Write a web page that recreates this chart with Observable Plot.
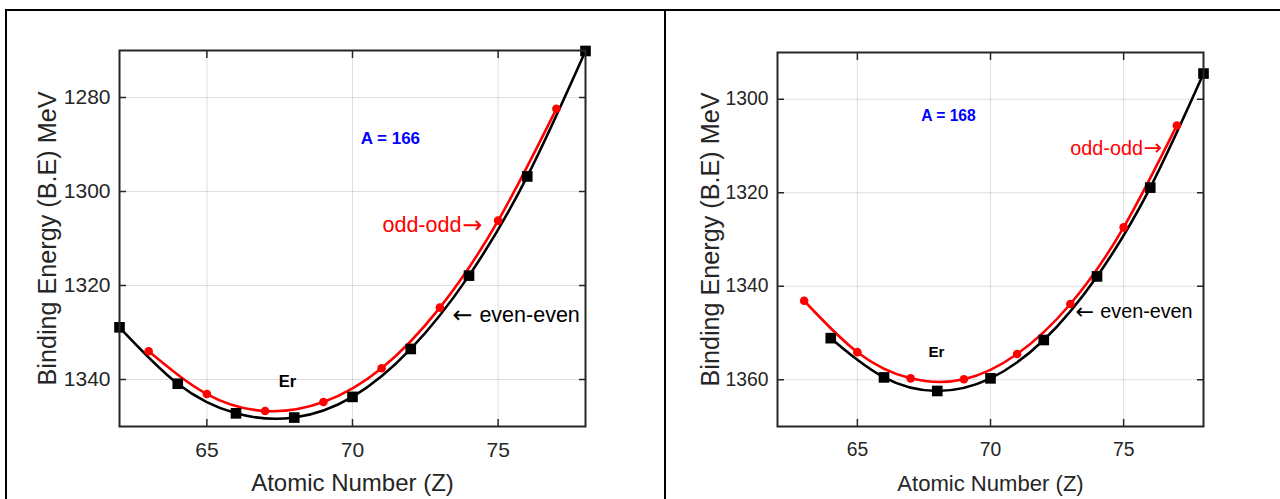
<!DOCTYPE html>
<html>
<head>
<meta charset="utf-8">
<script src="https://cdn.jsdelivr.net/npm/d3@7"></script>
<script src="https://cdn.jsdelivr.net/npm/@observablehq/plot@0.6"></script>
<style>
  html, body { margin: 0; padding: 0; background: #fff; }
  #wrap { position: relative; width: 1280px; height: 499px; overflow: hidden; background: #fff; }
  .panel { position: absolute; top: 0; }
  .bline { position: absolute; background: #000; }
</style>
</head>
<body>
<div id="wrap">
  <div class="bline" style="left:5px;top:9px;width:2px;height:490px"></div>
  <div class="bline" style="left:5px;top:9px;width:1275px;height:2px"></div>
  <div class="bline" style="left:664px;top:9px;width:2px;height:490px"></div>
  <div id="p1" class="panel" style="left:0px"></div>
  <div id="p2" class="panel" style="left:665px"></div>
</div>
<script>
// ---- Data ----
// Panel A = 166
const zEven166 = [62, 64, 66, 68, 70, 72, 74, 76, 78];
const beEven166 = [1328.9, 1340.9, 1347.2, 1348.1, 1343.7, 1333.5, 1317.9, 1296.8, 1270.1];
const zOdd166 = [63, 65, 67, 69, 71, 73, 75, 77];
const beOdd166 = [1334.0, 1343.1, 1346.7, 1344.8, 1337.6, 1324.7, 1306.2, 1282.4];
// Panel A = 168
const zEven168 = [64, 66, 68, 70, 72, 74, 76, 78];
const beEven168 = [1351.1, 1359.5, 1362.4, 1359.7, 1351.5, 1337.9, 1318.9, 1294.5];
const zOdd168 = [63, 65, 67, 69, 71, 73, 75, 77];
const beOdd168 = [1343.1, 1354.1, 1359.7, 1359.9, 1354.5, 1343.8, 1327.4, 1305.6];

const xTicks = [65, 70, 75];
const yTicks166 = [1280, 1300, 1320, 1340];
const yTicks168 = [1300, 1320, 1340, 1360];

const xLabel = "Atomic Number (Z)";
const yLabel = "Binding Energy (B.E) MeV";
const massLabel166 = "A = 166";
const massLabel168 = "A = 168";
const elemLabel = "Er";
const oddLabel = "odd-odd";
const evenLabel = "even-even";

function toRows(zs, bes) { return zs.map((z, i) => ({z, be: bes[i]})); }

const FONT = "'Liberation Sans', Arial, Helvetica, sans-serif";
const ARROWFONT = "'DejaVu Sans', sans-serif";
const AX = "#262626";

function panel(o) {
  const {width, marginLeft, marginRight, marginTop, marginBottom, yDomain, yTicks, even, odd, s, n} = o;
  const fmt = d => String(d);
  return Plot.plot({
    width, height: 499,
    marginLeft, marginRight, marginTop, marginBottom,
    style: {fontFamily: FONT, fontSize: `${21 * s}px`, color: AX, background: "transparent", overflow: "visible"},
    x: {domain: [62, 78]},
    y: {domain: yDomain, reverse: true},
    marks: [
      Plot.gridX(xTicks, {stroke: AX, strokeOpacity: 0.15, strokeWidth: 1}),
      Plot.gridY(yTicks, {stroke: AX, strokeOpacity: 0.15, strokeWidth: 1}),
      Plot.line(even, {x: "z", y: "be", curve: "natural", stroke: "#000", strokeWidth: 2.6}),
      Plot.line(odd, {x: "z", y: "be", curve: "natural", stroke: "#ff0000", strokeWidth: 2.6}),
      Plot.dot(odd, {x: "z", y: "be", r: 4.3, fill: "#ff0000", stroke: "none"}),
      Plot.dot(even, {x: "z", y: "be", symbol: "square", r: 6, fill: "#000", stroke: "none"}),
      // inward ticks on all four sides
      Plot.axisX(xTicks, {anchor: "bottom", tickSize: -7, tickFormat: () => "", label: null, stroke: AX, strokeWidth: 1.5}),
      Plot.axisX(xTicks, {anchor: "top", tickSize: -7, tickFormat: () => "", label: null, stroke: AX, strokeWidth: 1.5}),
      Plot.axisY(yTicks, {anchor: "left", tickSize: -7, tickFormat: () => "", label: null, stroke: AX, strokeWidth: 1.5}),
      Plot.axisY(yTicks, {anchor: "right", tickSize: -7, tickFormat: () => "", label: null, stroke: AX, strokeWidth: 1.5}),
      // tick labels
      Plot.axisX(xTicks, {anchor: "bottom", tickSize: 0, tickPadding: 16, tickFormat: fmt, label: null, fontSize: 21 * s, fill: AX}),
      Plot.axisY(yTicks, {anchor: "left", tickSize: 0, tickPadding: 9, tickFormat: fmt, label: null, fontSize: 21 * s, fill: AX}),
      Plot.frame({stroke: AX, strokeWidth: 2}),
      // axis titles
      Plot.text([xLabel], {frameAnchor: "bottom", textAnchor: "middle", dy: 57, lineAnchor: "middle", fontSize: 24 * s, fill: AX}),
      Plot.text([yLabel], {frameAnchor: "left", textAnchor: "middle", dx: o.yLabelDx, rotate: -90, lineAnchor: "middle", fontSize: 25.2, fill: AX}),
      // annotations
      Plot.text([n.mass], {x: () => n.massZ, y: () => n.massBE, textAnchor: "middle", lineAnchor: "middle", fill: "#0000ff", fontWeight: "bold", fontSize: 17 * s}),
      Plot.text([elemLabel], {x: () => n.erZ, y: () => n.erBE, textAnchor: "middle", lineAnchor: "middle", fill: "#000", fontWeight: "bold", fontSize: 16.5 * s}),
      Plot.text([oddLabel], {x: () => n.oddZ, y: () => n.oddBE, textAnchor: "end", lineAnchor: "middle", dx: -21 * s, fill: "#ff0000", fontSize: 21.5 * s}),
      Plot.text(["\u2192"], {x: () => n.oddZ, y: () => n.oddBE, textAnchor: "end", lineAnchor: "middle", fill: "#ff0000", fontSize: 24 * s, fontFamily: ARROWFONT}),
      Plot.text(["\u2190"], {x: () => n.evenZ, y: () => n.evenBE, textAnchor: "start", lineAnchor: "middle", fill: "#000", fontSize: 24 * s, fontFamily: ARROWFONT}),
      Plot.text([evenLabel], {x: () => n.evenZ, y: () => n.evenBE, textAnchor: "start", lineAnchor: "middle", dx: 27 * s, fill: "#000", fontSize: 21.5 * s})
    ]
  });
}

document.getElementById("p1").appendChild(panel({
  width: 665, marginLeft: 119, marginRight: 80, marginTop: 50, marginBottom: 73,
  yDomain: [1270, 1350], yTicks: yTicks166, s: 1, yLabelDx: -72,
  even: toRows(zEven166, beEven166), odd: toRows(zOdd166, beOdd166),
  n: {mass: massLabel166, massZ: 71.3, massBE: 1288.7, erZ: 67.77, erBE: 1340.4,
      oddZ: 74.46, oddBE: 1307.2, evenZ: 73.43, evenBE: 1326.4}
}));
document.getElementById("p2").appendChild(panel({
  width: 615, marginLeft: 112, marginRight: 77, marginTop: 52, marginBottom: 73,
  yDomain: [1290, 1370], yTicks: yTicks168, s: 0.92, yLabelDx: -67,
  even: toRows(zEven168, beEven168), odd: toRows(zOdd168, beOdd168),
  n: {mass: massLabel168, massZ: 68.42, massBE: 1303.6, erZ: 67.97, erBE: 1354.0,
      oddZ: 76.45, oddBE: 1310.5, evenZ: 73.19, evenBE: 1345.5}
}));
</script>
</body>
</html>
